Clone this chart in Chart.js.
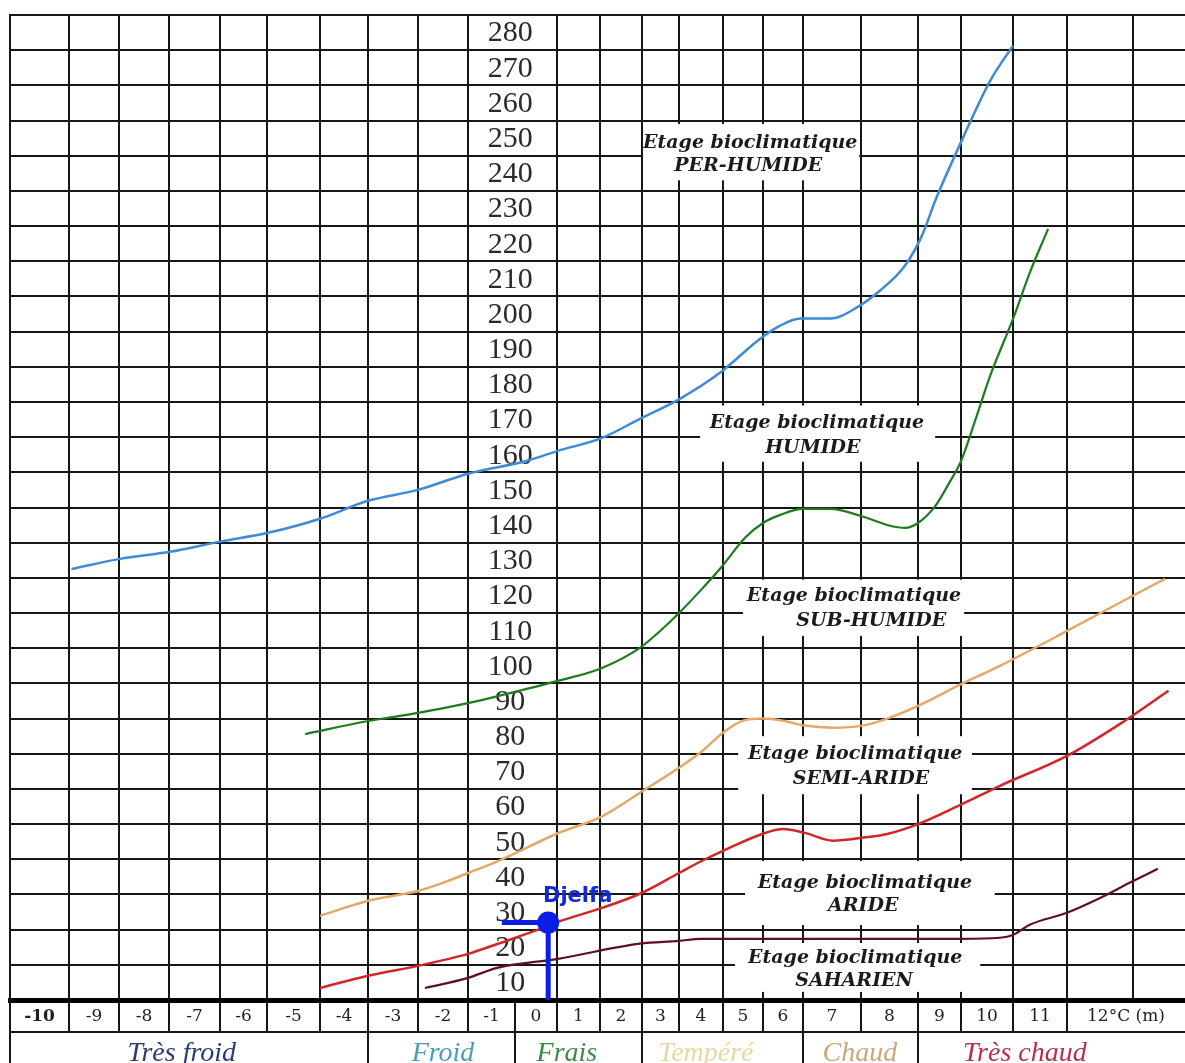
<!DOCTYPE html>
<html>
<head>
<meta charset="utf-8">
<title>Climagramme d'Emberger - Djelfa</title>
<script src="https://cdn.jsdelivr.net/npm/chart.js@4.4.1/dist/chart.umd.min.js"></script>
<style>
  html, body { margin: 0; padding: 0; background: #fff; overflow: hidden; }
  #wrap { width: 1185px; height: 1063px; position: relative; }
</style>
</head>
<body>
<div id="wrap"><canvas id="climagramme"></canvas></div>
<script>
// m (°C) : colonnes du tableau et leurs libellés
const M_COLS = [-10, -9, -8, -7, -6, -5, -4, -3, -2, -1, 0, 1, 2, 3, 4, 5, 6, 7, 8, 9, 10, 11, 12];
const M_LABELS = ['-10', '-9', '-8', '-7', '-6', '-5', '-4', '-3', '-2', '-1', '0', '1', '2', '3', '4', '5', '6', '7', '8', '9', '10', '11', '12°C (m)'];
// Q2 : libellés de la colonne centrale
const Q_LABELS = [10, 20, 30, 40, 50, 60, 70, 80, 90, 100, 110, 120, 130, 140, 150, 160, 170, 180, 190, 200, 210, 220, 230, 240, 250, 260, 270, 280];

// variantes thermiques (bas du tableau)
const ZONES = ['Très froid', 'Froid', 'Frais', 'Tempéré', 'Chaud', 'Très chaud'];
const ZONE_LIMITS = [-3.5, -0.5, 2.5, 6.5, 8.5];

// limites des étages bioclimatiques (m, Q2)
const PERHUMIDE_M = [-9.45, -8.48, -7.48, -6.5, -5.48, -4.5, -3.5, -2.5, -1.5, -0.21, 0.52, 1.55, 2.45, 3.52, 4.43, 5.43, 5.93, 6.43, 6.97, 7.48, 7.83, 8.27, 8.6, 8.9, 9.52, 10.06, 10.5];
const PERHUMIDE_Q = [127.5, 130.4, 132.4, 135.3, 137.8, 141.8, 146.9, 150.0, 154.6, 158.3, 161.1, 164.8, 170.2, 175.9, 183.3, 193.0, 196.7, 198.7, 198.7, 202.4, 206.6, 213.7, 222.5, 232.2, 249.5, 266.3, 276.3];

const HUMIDE_M = [-4.78, -3.5, -2.5, -1.5, -0.86, 0.52, 1.55, 2.45, 2.99, 3.5, 3.98, 4.5, 5.05, 5.5, 5.93, 6.5, 6.97, 7.5, 8.01, 8.27, 8.5, 8.9, 9.25, 9.5, 9.77, 10.06, 10.5, 10.81, 11.15];
const HUMIDE_Q = [80.6, 84.3, 86.6, 89.4, 91.4, 95.7, 99.4, 105.1, 109.9, 115.0, 121.3, 128.6, 136.4, 140.6, 142.9, 144.6, 144.6, 142.6, 139.8, 139.2, 140.6, 145.4, 152.5, 158.2, 169.6, 182.4, 198.6, 211.7, 224.2];

const SUBHUMIDE_M = [-4.5, -3.5, -2.5, -2.06, -1.5, -0.86, 0.52, 1.55, 2.45, 3.98, 4.5, 5.0, 5.48, 6.0, 6.53, 7.02, 7.52, 7.96, 8.5, 9.52, 10.25, 11.5, 11.95, 12.33];
const SUBHUMIDE_Q = [28.9, 33.2, 36.0, 38.0, 41.1, 44.5, 52.4, 57.2, 63.9, 75.3, 81.0, 84.4, 85.0, 84.4, 83.0, 82.4, 83.0, 85.0, 88.6, 94.9, 100.0, 109.9, 118.0, 124.7];

const SEMIARIDE_M = [-4.5, -3.5, -2.5, -1.5, -0.86, 0.1, 0.52, 1.55, 2.45, 3.5, 3.98, 4.5, 5.48, 6.0, 6.53, 7.02, 7.52, 7.96, 8.5, 9.52, 10.25, 11.5, 11.95, 12.36];
const SEMIARIDE_Q = [8.4, 11.9, 14.7, 18.1, 21.0, 25.2, 27.2, 31.2, 35.2, 41.1, 44.3, 47.4, 52.2, 53.6, 52.5, 50.3, 51.1, 52.2, 55.0, 60.7, 65.9, 74.4, 83.5, 92.9];

const ARIDE_M = [-2.36, -1.5, -0.86, 0.52, 2.45, 3.5, 3.98, 5.5, 7.5, 9.5, 10.25, 10.5, 10.81, 11.5, 11.78, 12.03, 12.27];
const ARIDE_Q = [8.4, 11.3, 14.2, 16.7, 21.0, 21.8, 22.4, 22.4, 22.4, 22.4, 22.7, 23.5, 26.4, 29.8, 34.0, 38.3, 42.3];

// station
const DJELFA_M = 0.29;
const DJELFA_Q = 27;
const DJELFA_BAR_M = -0.78;

const ETAGES = ['PER-HUMIDE', 'HUMIDE', 'SUB-HUMIDE', 'SEMI-ARIDE', 'ARIDE', 'SAHARIEN'];

// ---- mise en page (pas des données) ----
// largeur relative de chaque colonne du tableau (le papier n'est pas régulier)
const COL_WIDTHS = [59, 50, 50, 51, 47, 53, 48, 50, 50, 47, 42, 43, 42, 37, 44, 40, 40, 58, 57, 43, 52, 54, 118];
const ETAGE_POS = [
  { l1: [5.18, 248.6], l2: [5.13, 242.1], box: [2.53, 7.47, 254.0, 238.0] },
  { l1: [6.74, 169.0], l2: [6.67, 161.9], box: [3.98, 8.9, 174.0, 158.0] },
  { l1: [7.38, 119.9], l2: [7.68, 112.8], box: [5.0, 9.56, 124.5, 108.5] },
  { l1: [7.40, 75.0], l2: [7.50, 67.9], box: [4.88, 9.71, 80.0, 63.5] },
  { l1: [7.57, 38.3], l2: [7.54, 31.8], box: [5.05, 10.15, 44.5, 26.3] },
  { l1: [7.40, 17.0], l2: [7.38, 10.4], box: [4.8, 9.87, 21.2, 7.3] }
];
const ZONE_TEXT_M = [-7.25, -2.0, 0.73, 4.11, 7.48, 10.72];
const ZONE_COLORS = ['#2b3a78', '#4f9bbb', '#3f8a45', '#e2dba2', '#caa77c', '#b4304c'];
const Q_LABEL_M = -0.6;
const DJELFA_LABEL = [0.98, 34.3];

const M_MIN = M_COLS[0] - 0.5, M_MAX = M_COLS[M_COLS.length - 1] + 0.5;
const colTotal = COL_WIDTHS.reduce((a, b) => a + b, 0);
const colStart = [0];
COL_WIDTHS.forEach((w, i) => colStart.push(colStart[i] + w));

function warp(v) {
  let i = Math.floor(v - M_MIN);
  if (i < 0) i = 0;
  if (i > COL_WIDTHS.length - 1) i = COL_WIDTHS.length - 1;
  const f = v - M_MIN - i;
  return (colStart[i] + f * COL_WIDTHS[i]) / colTotal;
}
function unwarp(d) {
  const p = d * colTotal;
  let i = 0;
  while (i < COL_WIDTHS.length - 1 && colStart[i + 1] < p) i++;
  return M_MIN + i + (p - colStart[i]) / COL_WIDTHS[i];
}

// échelle linéaire déformée colonne par colonne
class WarpScale extends Chart.LinearScale {
  getPixelForValue(value) {
    if (value === null || value === undefined || isNaN(value)) return NaN;
    return this.left + warp(value) * this.width;
  }
  getValueForPixel(pixel) {
    return unwarp((pixel - this.left) / this.width);
  }
}
WarpScale.id = 'warp';
WarpScale.defaults = {};
Chart.register(WarpScale);

// traits verticaux du quadrillage : bords de colonnes, sauf dans la colonne des Q2
const X_GRID = [];
M_COLS.forEach(m => { if (m !== 0) X_GRID.push(m - 0.5); });
X_GRID.push(12.06);
const Y_GRID = Q_LABELS.map(q => q - 5).concat([Q_LABELS[Q_LABELS.length - 1] + 5]);

const pts = (ms, qs) => ms.map((m, i) => ({ x: m, y: qs[i] }));

const curve = (data, color, width) => ({
  data, borderColor: color, borderWidth: width, pointRadius: 0,
  cubicInterpolationMode: 'monotone', fill: false
});

const INK = '#161616';

const paperPlugin = {
  id: 'paper',
  beforeDraw(chart) {
    const { ctx } = chart;
    ctx.save();
    ctx.fillStyle = '#fff';
    ctx.fillRect(0, 0, chart.width, chart.height);
    ctx.restore();
  },
  beforeDatasetsDraw(chart) {
    const { ctx, scales: { x, y } } = chart;
    ctx.save();
    // cartouches blancs des étages
    ctx.fillStyle = '#fff';
    ETAGE_POS.forEach(p => {
      const x0 = x.getPixelForValue(p.box[0]), x1 = x.getPixelForValue(p.box[1]);
      const y0 = y.getPixelForValue(p.box[2]), y1 = y.getPixelForValue(p.box[3]);
      ctx.fillRect(x0, y0, x1 - x0, y1 - y0);
    });
    // colonne des Q2
    ctx.fillStyle = '#2a2a2a';
    ctx.font = '30px "Liberation Serif", serif';
    ctx.textAlign = 'center';
    ctx.textBaseline = 'middle';
    const lx = x.getPixelForValue(Q_LABEL_M);
    Q_LABELS.forEach(q => ctx.fillText(String(q), lx, y.getPixelForValue(q) + 1));
    ctx.restore();
  },
  afterDatasetsDraw(chart) {
    const { ctx, scales: { x, y } } = chart;
    ctx.save();
    ctx.fillStyle = '#1b1b1b';
    ctx.font = 'italic bold 19px "DejaVu Serif", serif';
    ctx.textAlign = 'center';
    ctx.textBaseline = 'middle';
    ETAGES.forEach((name, i) => {
      const p = ETAGE_POS[i];
      ctx.fillText('Etage bioclimatique', x.getPixelForValue(p.l1[0]), y.getPixelForValue(p.l1[1]));
      ctx.fillText(name, x.getPixelForValue(p.l2[0]), y.getPixelForValue(p.l2[1]));
    });
    ctx.fillStyle = '#1428d8';
    ctx.font = 'bold 21px "DejaVu Sans", sans-serif';
    ctx.fillText('Djelfa', x.getPixelForValue(DJELFA_LABEL[0]), y.getPixelForValue(DJELFA_LABEL[1]));
    ctx.restore();
  },
  afterDraw(chart) {
    const { ctx, chartArea, scales: { x } } = chart;
    const top = chartArea.bottom + 2;
    const mid = chartArea.bottom + 32;
    const bot = chart.height;
    ctx.save();
    ctx.strokeStyle = INK;
    ctx.lineWidth = 2;
    ctx.beginPath();
    M_COLS.forEach(m => {
      const px = Math.round(x.getPixelForValue(m - 0.5));
      ctx.moveTo(px, top); ctx.lineTo(px, mid);
    });
    ctx.moveTo(chartArea.left, mid); ctx.lineTo(chart.width, mid);
    [M_MIN].concat(ZONE_LIMITS).forEach(v => {
      const px = Math.round(x.getPixelForValue(v));
      ctx.moveTo(px, mid); ctx.lineTo(px, bot);
    });
    ctx.stroke();

    ctx.textAlign = 'center';
    ctx.textBaseline = 'middle';
    ctx.fillStyle = '#1e1e1e';
    M_COLS.forEach((m, i) => {
      ctx.font = (i === 0 ? 'bold ' : '') + '17px "DejaVu Serif", serif';
      ctx.fillText(M_LABELS[i], x.getPixelForValue(m), chartArea.bottom + 17);
    });

    ctx.textBaseline = 'alphabetic';
    ctx.font = 'italic 28px "Liberation Serif", serif';
    ZONES.forEach((z, i) => {
      ctx.fillStyle = ZONE_COLORS[i];
      ctx.fillText(z, x.getPixelForValue(ZONE_TEXT_M[i]), bot - 2);
    });
    ctx.restore();
  }
};

new Chart(document.getElementById('climagramme'), {
  type: 'line',
  data: {
    datasets: [
      { data: [{ x: DJELFA_M, y: DJELFA_Q }], showLine: false, pointRadius: 11,
        pointBackgroundColor: '#0a1ee8', pointBorderColor: '#0a1ee8', pointBorderWidth: 0 },
      { data: [{ x: DJELFA_M, y: DJELFA_Q }, { x: DJELFA_M, y: 5 }], borderColor: '#0a1ee8', borderWidth: 5, pointRadius: 0 },
      { data: [{ x: DJELFA_BAR_M, y: DJELFA_Q }, { x: DJELFA_M, y: DJELFA_Q }], borderColor: '#0a1ee8', borderWidth: 5, pointRadius: 0 },
      curve(pts(PERHUMIDE_M, PERHUMIDE_Q), '#3f8bd6', 2.5),
      curve(pts(HUMIDE_M, HUMIDE_Q), '#1f7b22', 2.2),
      curve(pts(SUBHUMIDE_M, SUBHUMIDE_Q), '#e3a968', 2.5),
      curve(pts(SEMIARIDE_M, SEMIARIDE_Q), '#d3262a', 2.5),
      curve(pts(ARIDE_M, ARIDE_Q), '#5e1220', 2.2)
    ]
  },
  options: {
    responsive: true,
    maintainAspectRatio: false,
    animation: false,
    events: [],
    layout: { autoPadding: false, padding: { left: 10, top: 15, right: 0, bottom: 63 } },
    plugins: { legend: { display: false }, tooltip: { enabled: false } },
    scales: {
      x: {
        type: 'warp', min: M_MIN, max: M_MAX,
        afterBuildTicks: s => { s.ticks = X_GRID.map(v => ({ value: v })); },
        ticks: { display: false },
        grid: { color: INK, lineWidth: 2, drawTicks: false },
        border: { display: true, color: '#000', width: 5 }
      },
      y: {
        type: 'linear', min: Y_GRID[0], max: Y_GRID[Y_GRID.length - 1],
        afterBuildTicks: s => { s.ticks = Y_GRID.map(v => ({ value: v })); },
        ticks: { display: false },
        grid: { color: INK, lineWidth: 2, drawTicks: false },
        border: { display: true, color: INK, width: 2 }
      }
    }
  },
  plugins: [paperPlugin]
});
</script>
</body>
</html>
